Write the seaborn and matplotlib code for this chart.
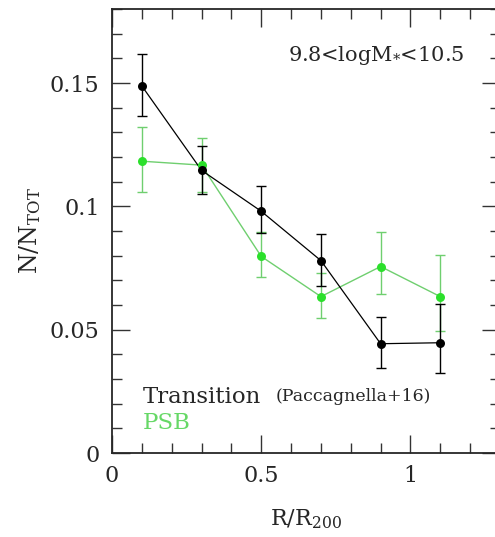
import numpy as np
import pandas as pd
import seaborn as sns
import matplotlib.pyplot as plt
from matplotlib.ticker import MultipleLocator

sns.set_style("ticks")
plt.rcParams['font.family'] = ['DejaVu Serif']
plt.rcParams['mathtext.fontset'] = 'dejavuserif'

# data
r_bins = [0.1, 0.3, 0.5, 0.7, 0.9, 1.1]
trans_frac = [0.1488, 0.1146, 0.0980, 0.0780, 0.0443, 0.0447]
trans_lo = [0.0122, 0.0097, 0.0090, 0.0101, 0.0097, 0.0122]
trans_hi = [0.0130, 0.0098, 0.0101, 0.0106, 0.0110, 0.0159]
psb_frac = [0.1183, 0.1167, 0.0797, 0.0634, 0.0756, 0.0634]
psb_lo = [0.0126, 0.0110, 0.0082, 0.0085, 0.0110, 0.0138]
psb_hi = [0.0138, 0.0109, 0.0097, 0.0094, 0.0138, 0.0167]

GREEN_LINE = "#6fcf6f"
GREEN_MARK = "#2be02b"

df = pd.DataFrame({
    "R": r_bins * 2,
    "frac": trans_frac + psb_frac,
    "sample": ["Transition"] * 6 + ["PSB"] * 6,
})

fig = plt.figure(figsize=(4.95, 5.37), dpi=100)
# right spine sits just outside the canvas, as in the original crop
ax = fig.add_axes([112 / 495, (537 - 453) / 537, (500 - 112) / 495, (453 - 9) / 537])

ax.errorbar(r_bins, psb_frac, yerr=[psb_lo, psb_hi], fmt="none", ecolor=GREEN_LINE,
            elinewidth=1.0, capsize=3.5, capthick=1.0, zorder=2)
ax.errorbar(r_bins, trans_frac, yerr=[trans_lo, trans_hi], fmt="none", ecolor="black",
            elinewidth=1.0, capsize=3.5, capthick=1.0, zorder=3)

sns.lineplot(data=df[df["sample"] == "PSB"], x="R", y="frac", color=GREEN_LINE,
             linewidth=1.0, ax=ax, zorder=2)
sns.lineplot(data=df[df["sample"] == "Transition"], x="R", y="frac", color="black",
             linewidth=0.9, ax=ax, zorder=3)
ax.scatter(r_bins, psb_frac, s=42, color=GREEN_MARK, zorder=4, linewidths=0)
ax.scatter(r_bins, trans_frac, s=42, color="black", zorder=5, linewidths=0)

ax.set_xlim(0, 1.3)
ax.set_ylim(0, 0.18)
ax.xaxis.set_minor_locator(MultipleLocator(0.1))
ax.yaxis.set_minor_locator(MultipleLocator(0.01))
ax.set_xticks([0, 0.5, 1])
ax.set_xticklabels(["0", "0.5", "1"])
ax.set_yticks([0, 0.05, 0.1, 0.15])
ax.set_yticklabels(["0", "0.05", "0.1", "0.15"])
ax.tick_params(which="both", direction="in", top=True, right=True, labelsize=16,
               width=1.0, color="#333333")
ax.tick_params(which="major", length=13, pad=9)
ax.tick_params(which="minor", length=7)
for s in ax.spines.values():
    s.set_linewidth(1.3)

ax.set_xlabel(r"R/R$_{\mathregular{200}}$", fontsize=16, labelpad=14)
ax.set_ylabel(r"N/N$_{\mathregular{TOT}}$", fontsize=17, labelpad=5)

ax.text(1.18, 0.161, r"9.8<logM$_{*}$<10.5", fontsize=15, ha="right", va="center")
ax.text(0.104, 0.0228, "Transition", fontsize=16.5, ha="left", va="center")
ax.text(0.549, 0.0228, "(Paccagnella+16)", fontsize=12.5, ha="left", va="center")
ax.text(0.104, 0.0122, "PSB", fontsize=16.5, ha="left", va="center", color="#66d866")

fig.savefig("out.png", dpi=100)
